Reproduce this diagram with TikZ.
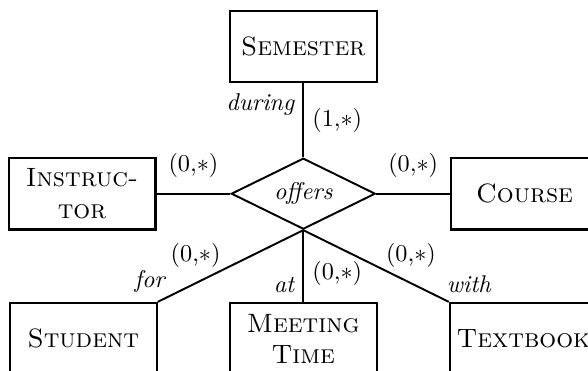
\documentclass[tikz,border=0pt]{standalone}
\usetikzlibrary{positioning,shapes.geometric}
\tikzset{
  entity/.style={draw,line width=0.9pt,minimum width=2.13cm,minimum height=1.04cm,
    align=center,font=\fontsize{10.95pt}{13pt}\selectfont\scshape,inner sep=2pt},
  relship/.style={draw,thick,diamond,aspect=2,minimum width=2.09cm,
    minimum height=1.03cm,inner sep=0pt,font=\itshape},
  link/.style={thick},
  role/.style={font=\itshape}
}
\begin{document}
\begin{tikzpicture}[node distance=1.07cm]
  \useasboundingbox (-4.40,-2.56) rectangle (4.13,2.81);
  \clip (-4.40,-2.56) rectangle (4.13,2.81);
  \node[relship] (offers) {offers};
  \node[entity,above=of offers] (sem) {Semester};
  \node[entity,left=of offers] (instr) {Instruc-\\tor};
  \node[entity,right=of offers] (course) {Course};
  \node[entity,below=1.04cm of offers] (meet) {Meeting\\Time};
  \node[entity,left=1.03cm of meet] (stud) {Student};
  \node[entity,right=1.03cm of meet] (book) {Textbook};
  % roles and cardinalities
  \draw[link] (sem) -- node[pos=0.28,left,role] (during) {during}
    node[pos=0.5,right] (c1) {(1,$\ast$)} (offers);
  \draw[link] (instr) -- node[pos=0.5,above=1mm] (c2) {(0,$\ast$)} (offers);
  \draw[link] (offers) -- node[pos=0.5,above=1mm] (c3) {(0,$\ast$)} (course);
  \draw[link] (offers.south) -- node[pos=0.74,above=1mm] (c4) {(0,$\ast$)}
    node[pos=1,above left,xshift=0.23cm,role] (for) {for} (stud.north east);
  \draw[link] (offers.south) -- node[pos=0.6,right] (c5) {(0,$\ast$)}
    node[pos=1,above left,role] (at) {at} (meet);
  \draw[link] (offers.south) -- node[pos=0.74,above=1mm] (c6) {(0,$\ast$)}
    node[pos=1,above right,xshift=-0.16cm,role] (with) {with} (book.north west);
\end{tikzpicture}
\end{document}
